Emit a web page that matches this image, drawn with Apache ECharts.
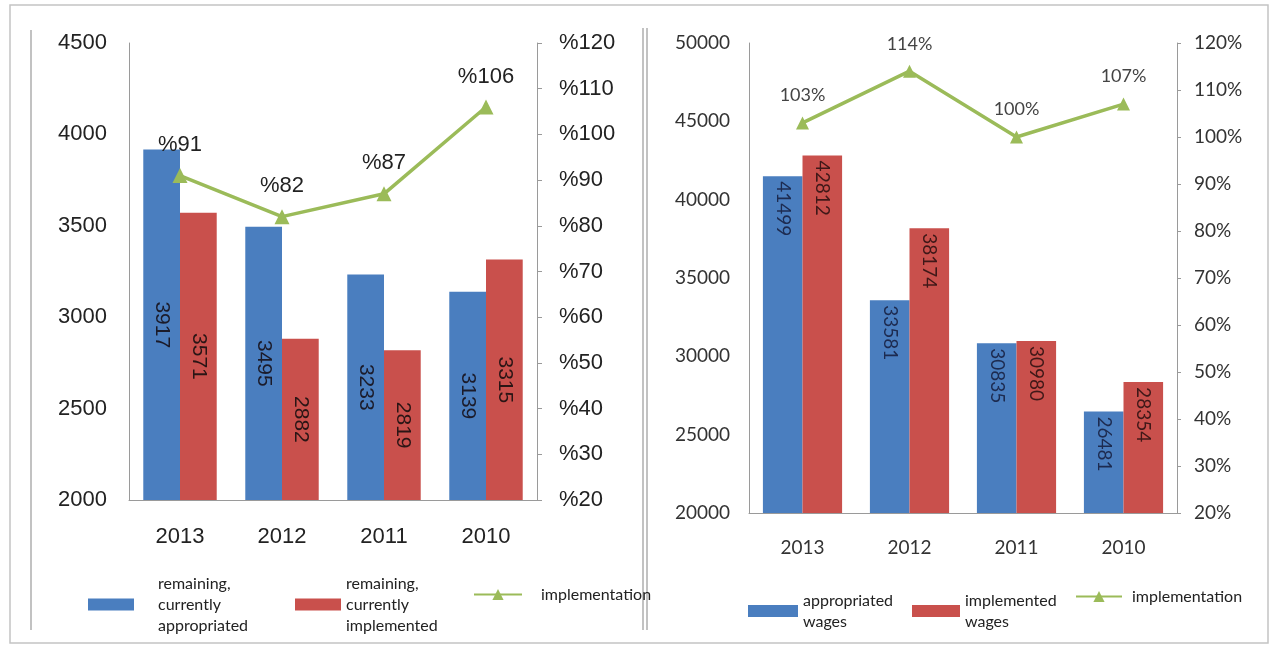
<!DOCTYPE html>
<html>
<head>
<meta charset="utf-8">
<style>
  html, body { margin: 0; padding: 0; background: #ffffff; }
  #chart { width: 1275px; height: 647px; }
</style>
<script src="https://cdn.jsdelivr.net/npm/echarts@6/dist/echarts.min.js"></script>
</head>
<body>
<div id="chart"></div>
<script>
// Categories (years) shared by both panels
const years = ['2013', '2012', '2011', '2010'];

// Left panel: remaining amounts and implementation rate
const remainingAppropriated = [3917, 3495, 3233, 3139];
const remainingImplemented = [3571, 2882, 2819, 3315];
const remainingRate = [91, 82, 87, 106];

// Right panel: wages and implementation rate
const appropriatedWages = [41499, 33581, 30835, 26481];
const implementedWages = [42812, 38174, 30980, 28354];
const wagesRate = [103, 114, 100, 107];

const BLUE = '#4a7ebf';
const RED = '#c9504c';
const GREEN = '#9bbb59';
const ARIAL = '"Liberation Sans", Arial, sans-serif';
const CAL = 'Lato, "Open Sans", sans-serif';

const chart = echarts.init(document.getElementById('chart'));

// one legend box per entry so each can sit where it belongs
function legendBox(name, left, top, pad, w, h) {
  const item = { name: name };
  if (h === 12) item.icon = 'rect';
  return {
    data: [item],
    left: left, top: top,
    itemWidth: w, itemHeight: h,
    padding: 0,
    selectedMode: false,
    textStyle: { fontFamily: CAL, fontSize: 16, lineHeight: 21, color: '#222', padding: [0, 0, 0, pad] }
  };
}

const plain = v => String(v);

const option = {
  animation: false,
  backgroundColor: '#ffffff',
  graphic: [
    { type: 'rect', shape: { x: 10, y: 5, width: 1258, height: 638 }, style: { fill: 'none', stroke: '#c4c4c4', lineWidth: 1.5 } },
    { type: 'line', shape: { x1: 31, y1: 30, x2: 31, y2: 630 }, style: { stroke: '#999', lineWidth: 1.2 } },
    { type: 'line', shape: { x1: 643, y1: 28, x2: 643, y2: 630 }, style: { stroke: '#999', lineWidth: 1.2 } },
    { type: 'line', shape: { x1: 647, y1: 28, x2: 647, y2: 630 }, style: { stroke: '#999', lineWidth: 1.2 } }
  ],
  legend: [
    legendBox('remaining,\ncurrently\nappropriated', 88, 573, 19, 46, 12),
    legendBox('remaining,\ncurrently\nimplemented', 295, 573, 0, 46, 12),
    legendBox('implementation ', 473, 584, 14, 48, 14),
    legendBox('appropriated\nwages', 748, 590, 0, 50, 12),
    legendBox('implemented\nwages', 912, 590, 0, 48, 12),
    legendBox('implementation', 1075, 586, 5, 46, 14)
  ],
  grid: [
    { left: 129, right: 1275 - 537, top: 43, bottom: 647 - 500 },
    { left: 749, right: 1275 - 1177, top: 43, bottom: 647 - 513 }
  ],
  xAxis: [
    {
      type: 'category', gridIndex: 0, data: years,
      axisLine: { lineStyle: { color: '#9a9a9a' } },
      axisTick: { show: false },
      axisLabel: { fontFamily: ARIAL, fontSize: 22, color: '#222', margin: 26 }
    },
    {
      type: 'category', gridIndex: 1, data: years,
      axisLine: { lineStyle: { color: '#9a9a9a' } },
      axisTick: { show: false },
      axisLabel: { fontFamily: CAL, fontSize: 19, color: '#333', margin: 25 }
    }
  ],
  yAxis: [
    {
      type: 'value', gridIndex: 0, min: 2000, max: 4500, interval: 500,
      axisLine: { show: true, lineStyle: { color: '#9a9a9a' } },
      axisTick: { show: false }, splitLine: { show: false },
      axisLabel: { fontFamily: ARIAL, fontSize: 22, color: '#222', margin: 22, formatter: plain }
    },
    {
      type: 'value', gridIndex: 0, position: 'right', min: 20, max: 120, interval: 10,
      axisLine: { show: true, lineStyle: { color: '#9a9a9a' } },
      axisTick: { show: true, length: 5, lineStyle: { color: '#9a9a9a' } },
      splitLine: { show: false },
      axisLabel: { fontFamily: ARIAL, fontSize: 22, color: '#222', margin: 22, formatter: v => '%' + v }
    },
    {
      type: 'value', gridIndex: 1, min: 20000, max: 50000, interval: 5000,
      axisLine: { show: true, lineStyle: { color: '#9a9a9a' } },
      axisTick: { show: false }, splitLine: { show: false },
      axisLabel: { fontFamily: CAL, fontSize: 19, color: '#333', margin: 19, formatter: plain }
    },
    {
      type: 'value', gridIndex: 1, position: 'right', min: 20, max: 120, interval: 10,
      axisLine: { show: true, lineStyle: { color: '#9a9a9a' } },
      axisTick: { show: true, length: 4, lineStyle: { color: '#9a9a9a' } },
      splitLine: { show: false },
      axisLabel: { fontFamily: CAL, fontSize: 19, color: '#333', margin: 17, formatter: v => v + '%' }
    }
  ],
  series: [
    {
      name: 'remaining,\ncurrently\nappropriated', type: 'bar', xAxisIndex: 0, yAxisIndex: 0,
      data: remainingAppropriated, barWidth: '36%', barGap: '0%', itemStyle: { color: BLUE },
      label: { show: true, position: 'inside', rotate: -90, fontFamily: ARIAL, fontSize: 21, color: '#1b1b2a' }
    },
    {
      name: 'remaining,\ncurrently\nimplemented', type: 'bar', xAxisIndex: 0, yAxisIndex: 0,
      data: remainingImplemented, barWidth: '36%', barGap: '0%', itemStyle: { color: RED },
      label: { show: true, position: 'inside', rotate: -90, fontFamily: ARIAL, fontSize: 21, color: '#2a1515' }
    },
    {
      name: 'implementation ', type: 'line', xAxisIndex: 0, yAxisIndex: 1,
      data: remainingRate, symbol: 'triangle', symbolSize: 15,
      lineStyle: { color: GREEN, width: 3.5 }, itemStyle: { color: GREEN },
      label: { show: true, position: 'top', distance: 12, fontFamily: ARIAL, fontSize: 22, color: '#222', formatter: p => '%' + p.value }
    },
    {
      name: 'appropriated\nwages', type: 'bar', xAxisIndex: 1, yAxisIndex: 2,
      data: appropriatedWages, barWidth: '37%', barGap: '0%', itemStyle: { color: BLUE },
      label: { show: true, position: 'insideTop', distance: 5, rotate: -90, align: 'left', verticalAlign: 'middle', fontFamily: CAL, fontSize: 19, color: '#1d2b50' }
    },
    {
      name: 'implemented\nwages', type: 'bar', xAxisIndex: 1, yAxisIndex: 2,
      data: implementedWages, barWidth: '37%', barGap: '0%', itemStyle: { color: RED },
      label: { show: true, position: 'insideTop', distance: 5, rotate: -90, align: 'left', verticalAlign: 'middle', fontFamily: CAL, fontSize: 19, color: '#3f1818' }
    },
    {
      name: 'implementation', type: 'line', xAxisIndex: 1, yAxisIndex: 3,
      data: wagesRate, symbol: 'triangle', symbolSize: 13,
      lineStyle: { color: GREEN, width: 3.5 }, itemStyle: { color: GREEN },
      label: { show: true, position: 'top', distance: 12, fontFamily: CAL, fontSize: 18, color: '#444', formatter: p => p.value + '%' }
    }
  ]
};

chart.setOption(option);
</script>
</body>
</html>
